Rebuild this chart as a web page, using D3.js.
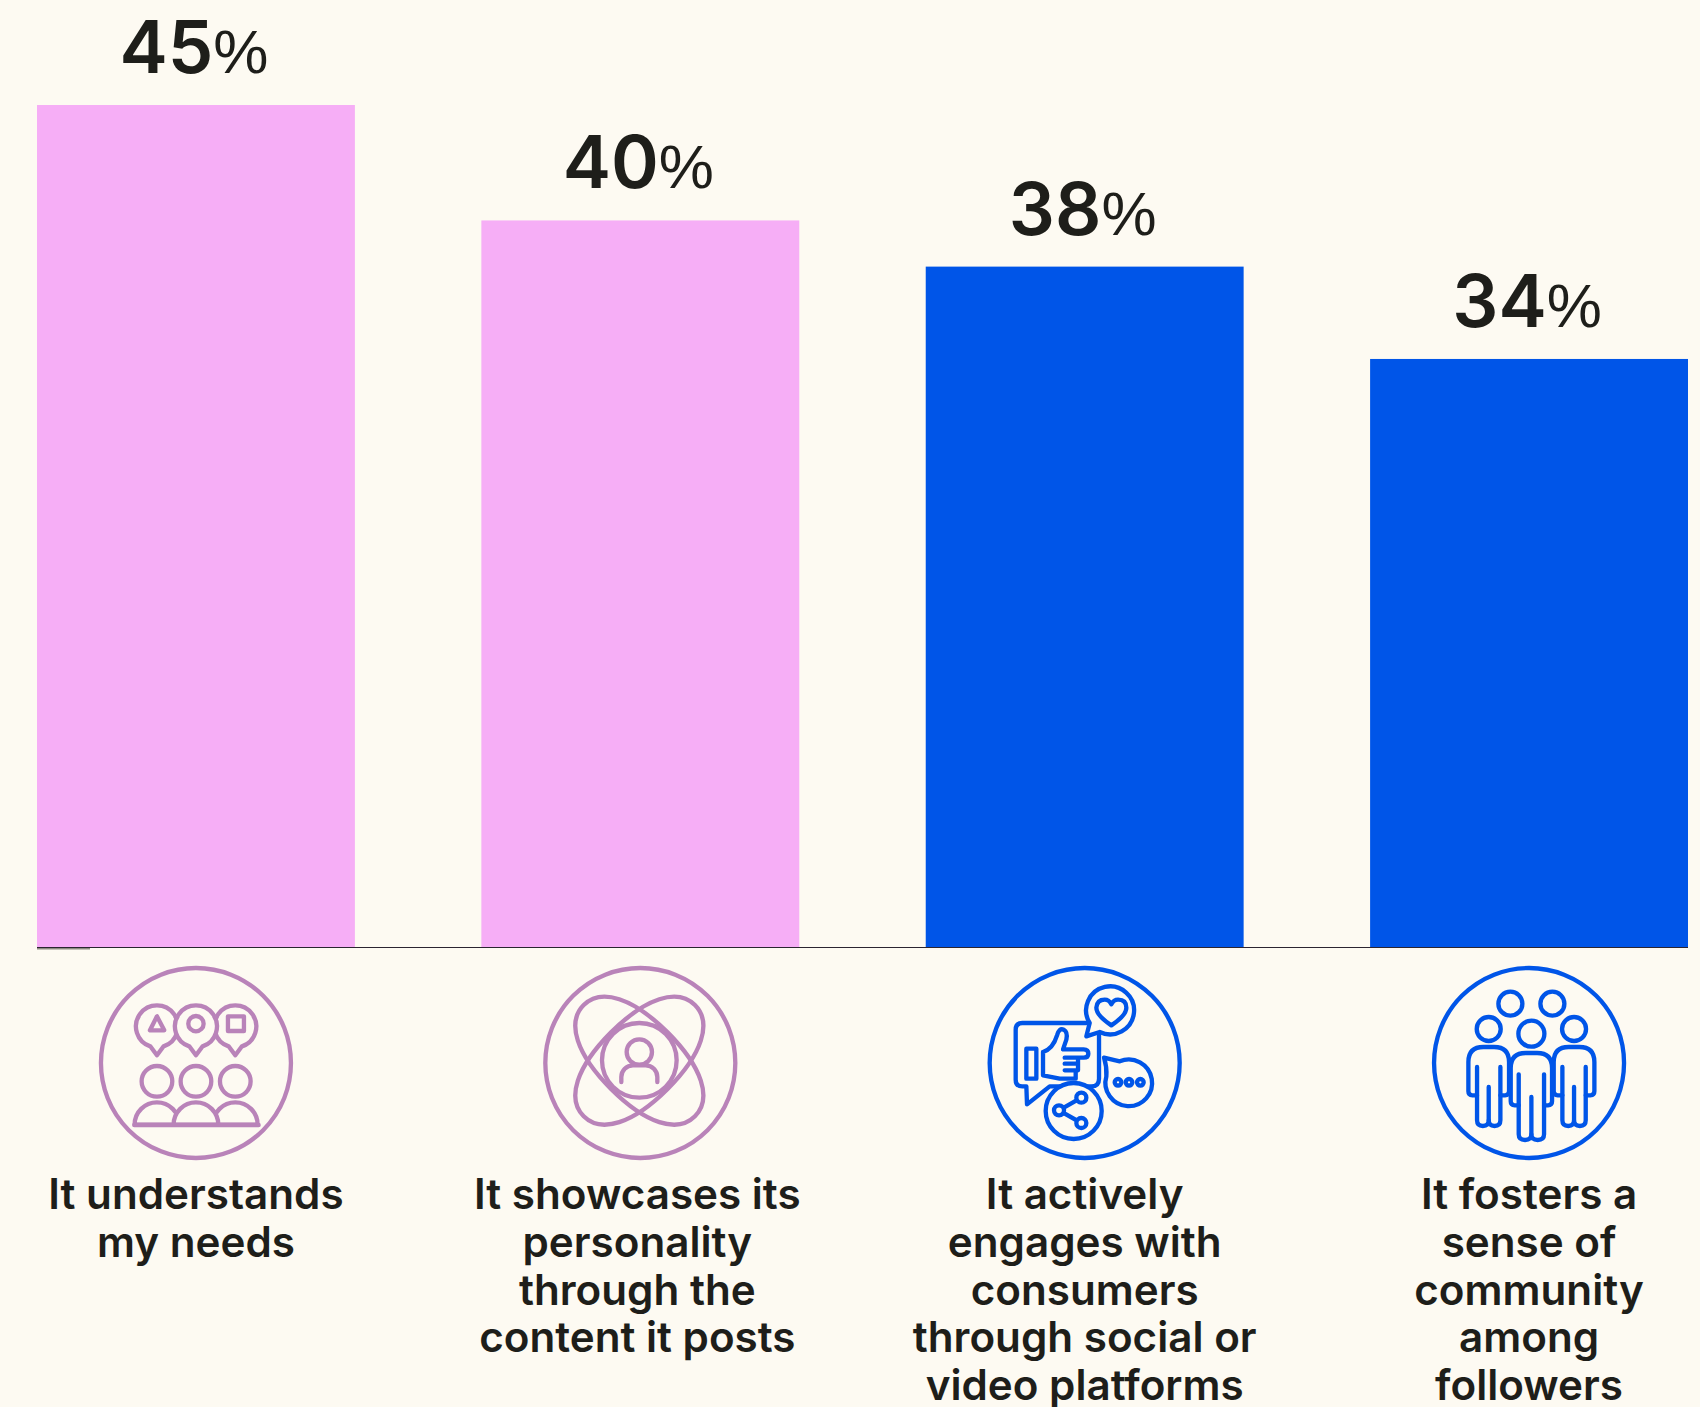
<!DOCTYPE html>
<html>
<head>
<meta charset="utf-8">
<script src="https://cdn.jsdelivr.net/npm/d3@7"></script>
<style>
  html, body { margin: 0; padding: 0; background: #fdfaf2; }
  svg { display: block; }
  text { font-family: Inter, "Noto Sans", sans-serif; fill: #1e1e1a; }
</style>
</head>
<body>
<figure id="bars" style="margin:0"></figure>
<script>
const categories = ["understands", "showcases", "engages", "fosters"];
const values = [45, 40, 38, 34];
const barColors = ["#f6aef6", "#f6aef6", "#0055e8", "#0055e8"];
const iconColors = ["#b983b9", "#b983b9", "#0055e8", "#0055e8"];
const labelLines = [
  ["It understands", "my needs"],
  ["It showcases its", "personality", "through the", "content it posts"],
  ["It actively", "engages with", "consumers", "through social or", "video platforms"],
  ["It fosters a", "sense of", "community", "among", "followers"]
];
const labelShift = [0, -3, 0, 0];

const width = 1700, height = 1407;
const bg = "#fdfaf2";
const baseline = 947;

const svg = d3.select("figure#bars").append("svg")
  .attr("width", width)
  .attr("height", height);

svg.append("rect").attr("width", width).attr("height", height).attr("fill", bg);

const x = d3.scaleBand().domain(categories).range([37, 1688]).paddingInner(0.2846);
// the value axis does not start at zero
const y = d3.scaleLinear().domain([8.53, 45]).range([baseline, 105]);

svg.selectAll("rect.bar")
  .data(values)
  .enter().append("rect")
  .attr("class", "bar")
  .attr("x", (d, i) => x(categories[i]))
  .attr("y", d => y(d))
  .attr("width", x.bandwidth())
  .attr("height", d => baseline - y(d))
  .attr("fill", (d, i) => barColors[i]);

// baseline, with the short heavier stub at the left end
svg.append("rect").attr("x", 37).attr("y", 948).attr("width", 53).attr("height", 1.5).attr("fill", "#8d8a80");
svg.append("line")
  .attr("x1", 37).attr("x2", 1688)
  .attr("y1", 947.5).attr("y2", 947.5)
  .attr("stroke", "#2b2430").attr("stroke-width", 1.2);

// value labels: big number, lighter smaller percent sign
const valueLabels = svg.selectAll("text.value")
  .data(values)
  .enter().append("text")
  .attr("class", "value")
  .attr("text-anchor", "middle")
  .attr("x", (d, i) => x(categories[i]) + x.bandwidth() / 2 - 2)
  .attr("y", d => y(d) - 32);
valueLabels.append("tspan")
  .attr("font-size", 72.5).attr("font-weight", 570)
  .text(d => d);
valueLabels.append("tspan")
  .attr("font-size", 62).attr("font-weight", 400)
  .attr("font-family", "'Liberation Sans', sans-serif")
  .text("%");

// category labels
svg.selectAll("text.label")
  .data(labelLines)
  .enter().append("text")
  .attr("class", "label")
  .attr("text-anchor", "middle")
  .attr("font-size", 42.2)
  .attr("font-weight", 600)
  .attr("x", (d, i) => x(categories[i]) + x.bandwidth() / 2 + labelShift[i])
  .each(function (lines) {
    d3.select(this).selectAll("tspan")
      .data(lines)
      .enter().append("tspan")
      .attr("x", d3.select(this).attr("x"))
      .attr("y", (l, j) => 1209 + j * 47.75)
      .text(l => l);
  });

// Icons are drawn at 3x in a local frame, origin on the ring centre
function ring(g) {
  g.append("circle").attr("r", 285).attr("stroke-width", 13);
}

function pin(g, cx) {
  g.append("path")
    .attr("fill", bg)
    .attr("d", `M${cx - 20} 318 A63 63 0 1 1 ${cx + 20} 318 L${cx} 345 Z`)
    .attr("transform", "translate(0,-368)");
}

function audienceIcon(g) {
  ring(g);
  const f = g.append("g").attr("transform", "translate(-349,0)");
  [232, 467, 349].forEach(cx => pin(f, cx));
  const t = f.append("g").attr("transform", "translate(0,-368)");
  t.append("path").attr("d", "M232 228 L211 270 H254 Z");
  t.append("circle").attr("cx", 349).attr("cy", 250).attr("r", 23);
  t.append("rect").attr("x", 445).attr("y", 228).attr("width", 48).attr("height", 44);
  [232, 349, 467].forEach(cx => {
    t.append("circle").attr("cx", cx).attr("cy", 423).attr("r", 46);
  });
  [232, 467, 349].forEach(cx => {
    t.append("path").attr("fill", bg)
      .attr("d", `M${cx - 67} 553 A67 67 0 0 1 ${cx + 67} 553 Z`);
  });
  t.append("line").attr("x1", 164).attr("x2", 537).attr("y1", 554).attr("y2", 554);
}

function atomIcon(g) {
  ring(g);
  const f = g.append("g").attr("transform", "translate(-345,-338)");
  // squarish orbit: four cubic quarters
  const a = 236, b = 120, k = 0.62;
  const orbit = `M${a} 0 C${a} ${k * b} ${k * a} ${b} 0 ${b} C${-k * a} ${b} ${-a} ${k * b} ${-a} 0` +
    ` C${-a} ${-k * b} ${-k * a} ${-b} 0 ${-b} C${k * a} ${-b} ${a} ${-k * b} ${a} 0 Z`;
  [45, -45].forEach(r => {
    f.append("path").attr("d", orbit)
      .attr("transform", `translate(342,331) rotate(${r})`);
  });
  f.append("circle").attr("cx", 342).attr("cy", 330).attr("r", 112);
  f.append("circle").attr("cx", 342).attr("cy", 305).attr("r", 38);
  f.append("path").attr("d", "M288 395 V380 A35 35 0 0 1 323 345 H361 A35 35 0 0 1 396 380 V395");
}

function socialIcon(g) {
  ring(g);
  const f = g.append("g").attr("transform", "translate(-345,-338)");
  // speech box around the thumb
  f.append("path").attr("d",
    "M350 218 H158 Q138 218 138 238 V388 Q138 408 158 408 H170 L172 462 L240 408 H365 Q388 408 388 385 V250");
  // thumb
  f.append("rect").attr("x", 170).attr("y", 295).attr("width", 30).attr("height", 90);
  f.append("path").attr("d",
    "M220 305 Q250 295 262 255 Q268 232 282 238 Q295 245 290 268 L280 297 H342 Q356 297 356 310 Q356 322 342 322 H285 M325 322 V340 H285 M325 340 V360 H285 M318 360 V385 H270 L220 375 V305");
  // heart bubble
  f.append("path").attr("fill", bg).attr("d",
    "M350 258 L360 218 A72 72 0 1 1 390 245 Z");
  f.append("path").attr("d",
    "M425 225 Q380 195 380 172 Q382 148 405 148 Q418 148 425 162 Q432 148 445 148 Q470 148 470 172 Q470 195 425 225 Z");
  // dots bubble
  f.append("path").attr("fill", bg).attr("d",
    "M403 322 L450 333 A70 70 0 1 1 410 378 Q412 350 403 322 Z");
  [445, 478, 512].forEach(cx => {
    f.append("circle").attr("cx", cx).attr("cy", 396).attr("r", 10);
  });
  // share bubble
  f.append("circle").attr("fill", bg).attr("cx", 312).attr("cy", 482).attr("r", 84);
  f.append("path").attr("d", "M335 442 L268 480 L335 518");
  [[335, 442], [335, 518], [268, 480]].forEach(c => {
    f.append("circle").attr("fill", bg).attr("cx", c[0]).attr("cy", c[1]).attr("r", 15);
  });
}

function person(f, cx, top, hw, inner, armTop, legTop, handEnd, legEnd) {
  f.append("path").attr("fill", bg).attr("d",
    `M${cx - inner} ${handEnd} H${cx - hw + 12} Q${cx - hw} ${handEnd} ${cx - hw} ${handEnd - 12}` +
    ` V${top + 45} Q${cx - hw} ${top} ${cx - hw + 45} ${top} H${cx + hw - 45} Q${cx + hw} ${top} ${cx + hw} ${top + 45}` +
    ` V${handEnd - 12} Q${cx + hw} ${handEnd} ${cx + hw - 12} ${handEnd} H${cx + inner}` +
    ` V${legEnd} Q${cx + inner} ${legEnd + 17} ${cx + inner / 2} ${legEnd + 17} Q${cx} ${legEnd + 17} ${cx} ${legEnd}` +
    ` Q${cx} ${legEnd + 17} ${cx - inner / 2} ${legEnd + 17} Q${cx - inner} ${legEnd + 17} ${cx - inner} ${legEnd} Z`);
  f.append("path").attr("d",
    `M${cx - inner} ${armTop} V${handEnd} M${cx + inner} ${armTop} V${handEnd} M${cx} ${legTop} V${legEnd}`);
}

function communityIcon(g) {
  ring(g);
  const f = g.append("g").attr("transform", "translate(-342,-338)");
  [[286, 160, 36], [412, 160, 36], [221, 236, 36], [477, 236, 36], [349, 250, 39]].forEach(c => {
    f.append("circle").attr("cx", c[0]).attr("cy", c[1]).attr("r", c[2]);
  });
  person(f, 221, 290, 61, 35, 350, 410, 435, 510);
  person(f, 477, 290, 61, 35, 350, 410, 435, 510);
  person(f, 349, 308, 62, 38, 372, 440, 465, 552);
}

const iconDrawers = [audienceIcon, atomIcon, socialIcon, communityIcon];

svg.selectAll("g.icon")
  .data(categories)
  .enter().append("g")
  .attr("class", "icon")
  .attr("transform", (d, i) => `translate(${x(d) + x.bandwidth() / 2},1063) scale(${1 / 3})`)
  .attr("fill", "none")
  .attr("stroke", (d, i) => iconColors[i])
  .attr("stroke-width", 13)
  .attr("stroke-linecap", "round")
  .attr("stroke-linejoin", "round")
  .each(function (d, i) { iconDrawers[i](d3.select(this)); });
</script>
</body>
</html>
